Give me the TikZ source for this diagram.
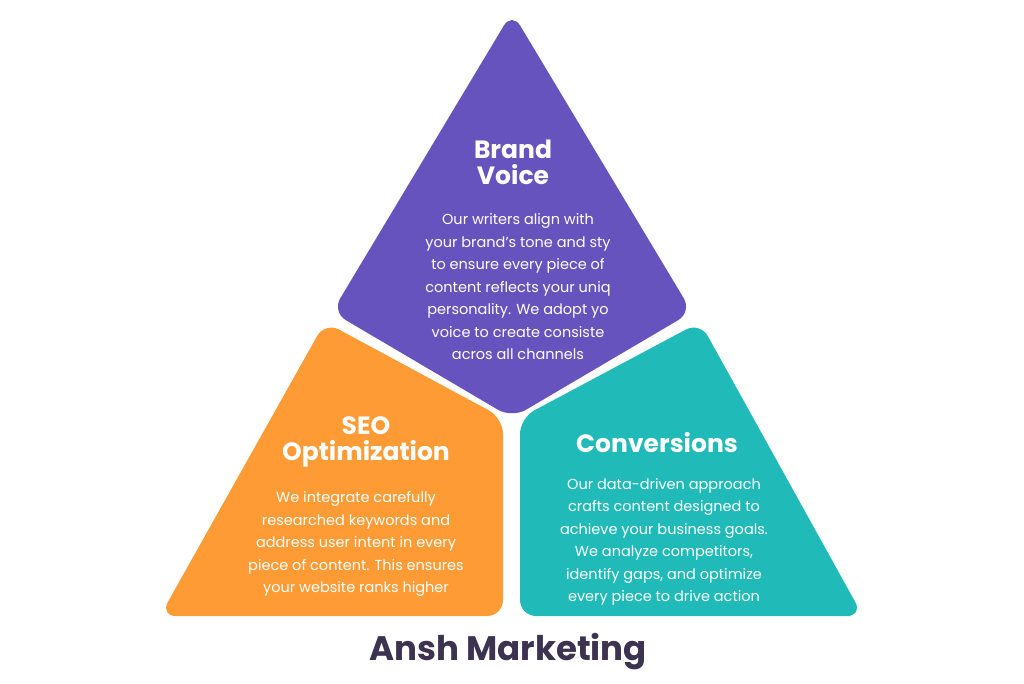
\documentclass[tikz,border=0pt]{standalone}
\usepackage{fontspec}
\setmainfont{Poppins}
\begin{document}
\begin{tikzpicture}[x=1pt,y=-1pt,
  shp/.style={rounded corners=16pt},
  head/.style={text=white,font=\fontsize{25}{30}\selectfont\bfseries,align=center},
  body/.style={text=white,font=\fontsize{14.5}{22.5}\selectfont,align=center}]
\useasboundingbox (0,0) rectangle (1024,683);
\definecolor{pur}{HTML}{6753BD}
\definecolor{ora}{HTML}{FF9B35}
\definecolor{tea}{HTML}{20BBB9}
\definecolor{ttl}{HTML}{3B3350}
\fill[pur,shp] (512,12) -- (692,312) -- (512,418) -- (332,312) -- cycle;
\fill[ora,shp] (325,322) -- (503,418) -- (503,616) -- (160,616) -- cycle;
\fill[tea,shp] (700,322) -- (863,616) -- (520,616) -- (520,418) -- cycle;
\node[head] (bv) at (513,162) {Brand\\[-4pt]Voice};
\node[body] (bvt) at (518,287) {Our writers align with\\your brand’s tone and sty\\to ensure every piece of\\content reflects your uniq\\personality. We adopt yo\\voice to create consiste\\acros all channels};
\node[head] (seo) at (366,442) {SEO\\[-4pt]Optimization};
\node[body] (seot) at (356,544) {We integrate carefully\\researched keywords and\\address user intent in every\\piece of content. This ensures\\your website ranks higher};
\node[head] (cv) at (657,443) {Conversions};
\node[body] (cvt) at (664,542) {Our data-driven approach\\crafts content designed to\\achieve your business goals.\\We analyze competitors,\\identify gaps, and optimize\\every piece to drive action};
\node[text=ttl,font=\fontsize{34}{40}\selectfont\bfseries] (t) at (508,652) {Ansh Marketing};
\end{tikzpicture}
\end{document}
